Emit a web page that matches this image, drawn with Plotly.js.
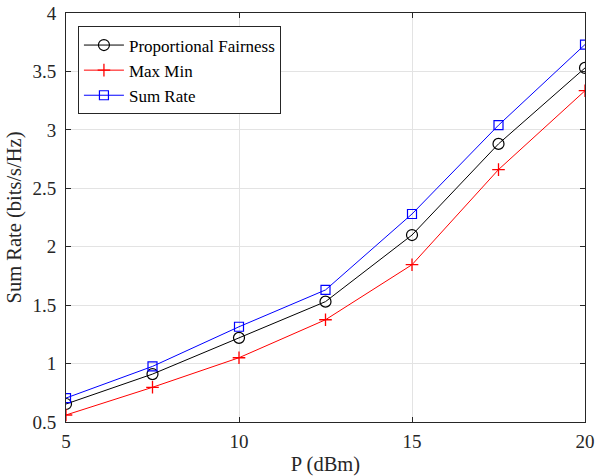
<!DOCTYPE html>
<html><head><meta charset="utf-8">
<script src="https://cdn.plot.ly/plotly-3.0.1.min.js"></script>
<style>html,body{margin:0;padding:0;background:#fff}#c{width:595px;height:476px}</style>
</head><body><div id="c"></div>
<script>
const powerDbm = [5, 7.5, 10, 12.5, 15, 17.5, 20];
const propFair = [0.654, 0.91, 1.22, 1.53, 2.10, 2.88, 3.53];
const maxMin   = [0.56, 0.797, 1.05, 1.375, 1.846, 2.66, 3.335];
const sumRate  = [0.705, 0.976, 1.315, 1.63, 2.28, 3.04, 3.73];
const xTicks = [5, 10, 15, 20];
const yTicks = [0.5, 1, 1.5, 2, 2.5, 3, 3.5, 4];
const yTickText = ['0.5', '1', '1.5', '2', '2.5', '3', '3.5', '4'];

const fam = 'Liberation Serif, Times New Roman, Times, serif';
const traces = [
  {x: powerDbm, y: propFair, name: 'Proportional Fairness', mode: 'lines+markers',
   line: {color: '#000000', width: 1}, marker: {symbol: 'circle-open', size: 11, color: '#000000', line: {width: 1.2}}},
  {x: powerDbm, y: maxMin, name: 'Max Min', mode: 'lines+markers',
   line: {color: '#ff0000', width: 1}, marker: {symbol: 'cross-thin-open', size: 9, color: '#ff0000', line: {width: 1.3, color: '#ff0000'}}},
  {x: powerDbm, y: sumRate, name: 'Sum Rate', mode: 'lines+markers',
   line: {color: '#0000ff', width: 1}, marker: {symbol: 'square-open', size: 9, color: '#0000ff', line: {width: 1.2}}}
];
const axisCommon = {
  showline: true, mirror: 'ticks', linecolor: '#262626', linewidth: 1,
  ticks: 'inside', ticklen: 5, tickcolor: '#262626',
  showgrid: true, gridcolor: '#e3e3e3', gridwidth: 1, zeroline: false,
  tickfont: {family: fam, size: 19, color: '#262626'}
};
const layout = {
  width: 595, height: 476,
  margin: {l: 66, r: 10, t: 13, b: 54},
  paper_bgcolor: '#fff', plot_bgcolor: '#fff',
  font: {family: fam, color: '#262626'},
  showlegend: true,
  legend: {x: 0.023, y: 0.967, xanchor: 'left', yanchor: 'top', bgcolor: '#fff',
    bordercolor: '#262626', borderwidth: 1, font: {family: fam, size: 17, color: '#000'},
    tracegroupgap: 0, itemwidth: 40},
  xaxis: Object.assign({}, axisCommon, {range: [5, 20], tickvals: xTicks, ticktext: xTicks.map(String),
    ticklabelstandoff: 2,
    title: {text: 'P (dBm)', font: {family: fam, size: 20.5, color: '#262626'}, standoff: 13}}),
  yaxis: Object.assign({}, axisCommon, {range: [0.5, 4], tickvals: yTicks, ticktext: yTickText,
    ticklabelstandoff: 5,
    title: {text: 'Sum Rate (bits/s/Hz)', font: {family: fam, size: 20.5, color: '#262626'}, standoff: 5}})
};
Plotly.newPlot('c', traces, layout, {staticPlot: true, displayModeBar: false});
</script></body></html>
